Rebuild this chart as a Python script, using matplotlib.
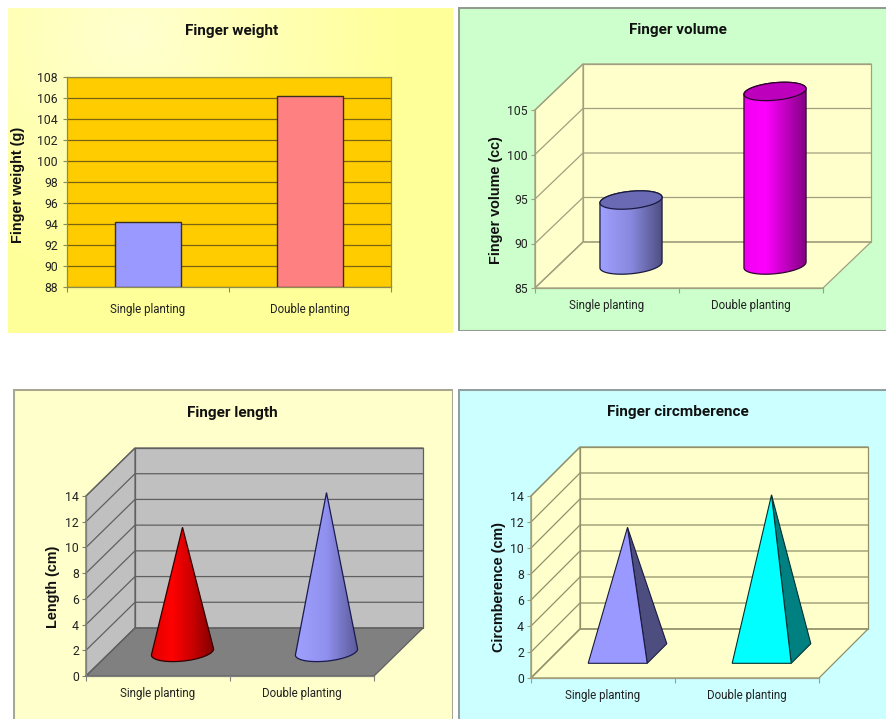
import numpy as np
import matplotlib
matplotlib.use('Agg')
import matplotlib.pyplot as plt
from matplotlib.colors import LinearSegmentedColormap
from matplotlib.patches import Polygon, Rectangle

plt.rcParams['font.family'] = ['Roboto', 'Liberation Sans', 'DejaVu Sans']

W, H = 886, 719

categories = ['Single planting', 'Double planting']

weight_values = [94.2, 106.2]
weight_ticks = [88, 90, 92, 94, 96, 98, 100, 102, 104, 106, 108]

volume_values = [92.3, 104.5]
volume_ticks = [85, 90, 95, 100, 105]

length_values = [9.7, 12.4]
length_ticks = [0, 2, 4, 6, 8, 10, 12, 14]

circ_values = [9.7, 12.2]
circ_ticks = [0, 2, 4, 6, 8, 10, 12, 14]

# half footprint of a 3D column, as fractions of a category and of the depth
HALF_W = 0.205
HALF_D = 0.2


def px_axes(fig, left, top, right, bottom):
    return fig.add_axes([left / W, 1 - bottom / H, (right - left) / W, (bottom - top) / H])


def panel_background(fig, box, color, edge=None, center=None, outer=None):
    """Card behind one chart, flat or with a soft radial shade."""
    left, top, right, bottom = box
    ax = px_axes(fig, left, top, right, bottom)
    ax.set_xlim(0, 1)
    ax.set_ylim(1, 0)
    ax.set_axis_off()
    ax.add_patch(Rectangle((0, 0), 1, 1, facecolor=color, edgecolor='none'))
    if center is not None:
        xx, yy = np.meshgrid(np.linspace(0, 1, 200), np.linspace(0, 1, 150))
        t = np.clip(np.hypot(xx - 0.28, (yy - 0.08) * 0.8) / 0.62, 0, 1)
        cmap = LinearSegmentedColormap.from_list('card', [center, outer])
        ax.imshow(t, extent=[0, 1, 1, 0], aspect='auto', cmap=cmap, vmin=0, vmax=1, zorder=2)
    if edge:
        ax.add_patch(Rectangle((0, 0), 1, 1, facecolor='none', edgecolor=edge, lw=2.2, zorder=3))


def gradient(ax, patch, xmin, xmax, ymin, ymax, colors):
    """Fill a patch with a left to right gradient."""
    cmap = LinearSegmentedColormap.from_list('shade', colors)
    grad = np.linspace(0, 1, 256).reshape(1, -1)
    im = ax.imshow(grad, extent=[xmin, xmax, ymin, ymax], aspect='auto', cmap=cmap,
                   zorder=patch.get_zorder() - 0.1, interpolation='bilinear')
    im.set_clip_box(ax.figure.bbox)
    im.set_clip_path(patch)


def ellipse(xc, y, dx, dy, t):
    x_e = xc + HALF_W * np.cos(t) + (0.5 + HALF_D * np.sin(t)) * dx
    y_e = y + (0.5 + HALF_D * np.sin(t)) * dy
    return np.column_stack([x_e, y_e])


def lower_arc(xc, y, dx, dy):
    tan_t = np.arctan2(HALF_D * dx, HALF_W)
    t = np.linspace(np.pi + tan_t, 2 * np.pi + tan_t, 60)
    return ellipse(xc, y, dx, dy, t), tan_t


def draw_cylinder(ax, xc, value, y0, dx, dy, colors, top_color, edge):
    arc, tan_t = lower_arc(xc, y0, dx, dy)
    top = ellipse(xc, value, dx, dy, np.linspace(tan_t, np.pi + tan_t, 60))
    body = Polygon(np.vstack([arc, top]), closed=True, facecolor='none', edgecolor=edge,
                   lw=0.9, zorder=5, clip_on=False)
    ax.add_patch(body)
    ext = np.hypot(HALF_W, HALF_D * dx)
    gradient(ax, body, xc + 0.5 * dx - ext, xc + 0.5 * dx + ext, y0, value + dy, colors)
    cap = Polygon(ellipse(xc, value, dx, dy, np.linspace(0, 2 * np.pi, 100)), closed=True,
                  facecolor=top_color, edgecolor=edge, lw=0.9, zorder=6, clip_on=False)
    ax.add_patch(cap)


def draw_cone(ax, xc, value, y0, dx, dy, colors, edge):
    arc, tan_t = lower_arc(xc, y0, dx, dy)
    tip = [xc + 0.5 * dx, value + 0.5 * dy]
    body = Polygon(np.vstack([arc, [tip]]), closed=True, facecolor='none', edgecolor=edge,
                   lw=0.9, zorder=5, clip_on=False)
    ax.add_patch(body)
    ext = np.hypot(HALF_W, HALF_D * dx)
    gradient(ax, body, xc + 0.5 * dx - ext, xc + 0.5 * dx + ext, y0, value + dy, colors)


def draw_pyramid(ax, xc, value, y0, dx, dy, front, side, edge):
    tip = [xc + 0.5 * dx, value + 0.5 * dy]
    d0, d1 = 0.5 - HALF_D, 0.5 + HALF_D
    fl = [xc - HALF_W + d0 * dx, y0 + d0 * dy]
    fr = [xc + HALF_W + d0 * dx, y0 + d0 * dy]
    br = [xc + HALF_W + d1 * dx, y0 + d1 * dy]
    ax.add_patch(Polygon([fr, br, tip], closed=True, facecolor=side, edgecolor=edge,
                         lw=0.8, zorder=5, clip_on=False))
    ax.add_patch(Polygon([fl, fr, tip], closed=True, facecolor=front, edgecolor=edge,
                         lw=0.8, zorder=6, clip_on=False))


def style_axes(ax, ticks, line_color, pad_x, pad_y):
    ax.set_xlim(0, 2)
    ax.set_ylim(ticks[0], ticks[-1])
    ax.autoscale(False)
    ax.patch.set_alpha(0)
    ax.set_yticks(ticks)
    ax.set_xticks([0, 1, 2])
    ax.set_xticklabels([])
    ax.set_xticks([0.5, 1.5], labels=categories, minor=True)
    ax.tick_params(axis='x', which='minor', length=0, labelsize=8.3, pad=pad_x, labelcolor='#222222')
    ax.tick_params(axis='x', which='major', length=3.5, color=line_color, width=0.8)
    ax.tick_params(axis='y', length=3, color=line_color, width=0.8, labelsize=8.8,
                   pad=pad_y, labelcolor='#222222')
    for spine in ax.spines.values():
        spine.set_color(line_color)
        spine.set_linewidth(0.9)
    ax.spines['top'].set_visible(False)
    ax.spines['right'].set_visible(False)


def box_3d(ax, ticks, dx, dy, wall, floor, grid):
    y0, y1 = ticks[0], ticks[-1]
    ax.add_patch(Polygon([(dx, y0 + dy), (2 + dx, y0 + dy), (2 + dx, y1 + dy), (dx, y1 + dy)],
                         closed=True, facecolor=wall, edgecolor=grid, lw=0.9, zorder=1, clip_on=False))
    ax.add_patch(Polygon([(0, y0), (dx, y0 + dy), (dx, y1 + dy), (0, y1)],
                         closed=True, facecolor=wall, edgecolor=grid, lw=0.9, zorder=1, clip_on=False))
    ax.add_patch(Polygon([(0, y0), (2, y0), (2 + dx, y0 + dy), (dx, y0 + dy)],
                         closed=True, facecolor=floor, edgecolor=grid, lw=0.9, zorder=1.5, clip_on=False))
    for t in ticks:
        ax.plot([0, dx, 2 + dx], [t, t + dy, t + dy], color=grid, lw=0.9, zorder=2, clip_on=False)


def panel_text(fig, title, title_xy, ylabel, ylabel_xy):
    fig.text(title_xy[0] / W, 1 - title_xy[1] / H, title, ha='center', va='center',
             fontsize=11, fontweight='bold', color='#111111')
    fig.text(ylabel_xy[0] / W, 1 - ylabel_xy[1] / H, ylabel, ha='center', va='center',
             rotation=90, fontsize=10.4, fontweight='bold', color='#111111',
             family=['Liberation Sans', 'DejaVu Sans'])


def depth_in_data(ax_box, ticks, depth_px):
    left, top, right, bottom = ax_box
    dx = depth_px[0] / (right - left) * 2
    dy = depth_px[1] / (bottom - top) * (ticks[-1] - ticks[0])
    return dx, dy


fig = plt.figure(figsize=(W / 100, H / 100), dpi=100, facecolor='white')

panel_background(fig, (8, 8, 453, 333), '#FFFF99', center='#FFFFD0', outer='#FFFF99')
panel_background(fig, (13, 389, 453, 722), '#FFFFCC', edge='#A8A890')
panel_background(fig, (458, 7, 890, 331), '#CCFFCC', edge='#909C90')
panel_background(fig, (458, 389, 890, 722), '#CCFFFF', edge='#90A0A0')

# Finger weight: plain 2D columns
box = (67, 77, 391, 287)
ax = px_axes(fig, *box)
style_axes(ax, weight_ticks, '#8C8C50', 11.5, 3.5)
ax.spines['top'].set_visible(True)
ax.spines['right'].set_visible(True)
ax.set_facecolor('#FFCC00')
ax.patch.set_alpha(1)
ax.grid(axis='y', color='#7A6410', lw=0.9)
ax.set_axisbelow(True)
ax.bar([0.5, 1.5], np.array(weight_values) - weight_ticks[0], bottom=weight_ticks[0], width=0.407,
       color=['#9999FF', '#FF8080'], edgecolor='#3A3020', lw=1.0, zorder=3)
panel_text(fig, 'Finger weight', (232, 31), 'Finger weight (g)', (18, 185))

# Finger volume: cylinders
box = (535, 110, 823, 288)
ax = px_axes(fig, *box)
style_axes(ax, volume_ticks, '#A0A080', 8, 2)
dx, dy = depth_in_data(box, volume_ticks, (48, 46))
box_3d(ax, volume_ticks, dx, dy, '#FFFFCC', '#FFFFCC', '#A0A080')
draw_cylinder(ax, 0.5, volume_values[0], volume_ticks[0], dx, dy,
              ['#A0A0FF', '#8888DD', '#4D4D80'], '#6A6AB4', '#1A1A40')
draw_cylinder(ax, 1.5, volume_values[1], volume_ticks[0], dx, dy,
              ['#F000F0', '#FF00FF', '#C000C0', '#800080'], '#BC00BC', '#300030')
panel_text(fig, 'Finger volume', (678, 30), 'Finger volume (cc)', (496, 200))

# Finger length: cones on a grey floor
box = (86, 496, 374, 676)
ax = px_axes(fig, *box)
style_axes(ax, length_ticks, '#808080', 8, 2)
dx, dy = depth_in_data(box, length_ticks, (49, 48))
box_3d(ax, length_ticks, dx, dy, '#C0C0C0', '#808080', '#606060')
draw_cone(ax, 0.5, length_values[0], length_ticks[0], dx, dy,
          ['#E00000', '#FF0000', '#C80000', '#800000'], '#300000')
draw_cone(ax, 1.5, length_values[1], length_ticks[0], dx, dy,
          ['#A0A0FF', '#9090F0', '#5A5A98'], '#1A1A50')
panel_text(fig, 'Finger length', (232, 413), 'Length (cm)', (53, 587))

# Finger circumference: pyramids
box = (531, 496, 819, 678)
ax = px_axes(fig, *box)
style_axes(ax, circ_ticks, '#A0A080', 8, 2)
dx, dy = depth_in_data(box, circ_ticks, (49, 49))
box_3d(ax, circ_ticks, dx, dy, '#FFFFCC', '#FFFFCC', '#90906A')
draw_pyramid(ax, 0.5, circ_values[0], circ_ticks[0], dx, dy, '#9999FF', '#4D4D80', '#1A1A40')
draw_pyramid(ax, 1.5, circ_values[1], circ_ticks[0], dx, dy, '#00FFFF', '#008080', '#003030')
panel_text(fig, 'Finger circmberence', (678, 412), 'Circmberence (cm)', (499, 587))

fig.savefig('out.png', dpi=100, facecolor='white')
